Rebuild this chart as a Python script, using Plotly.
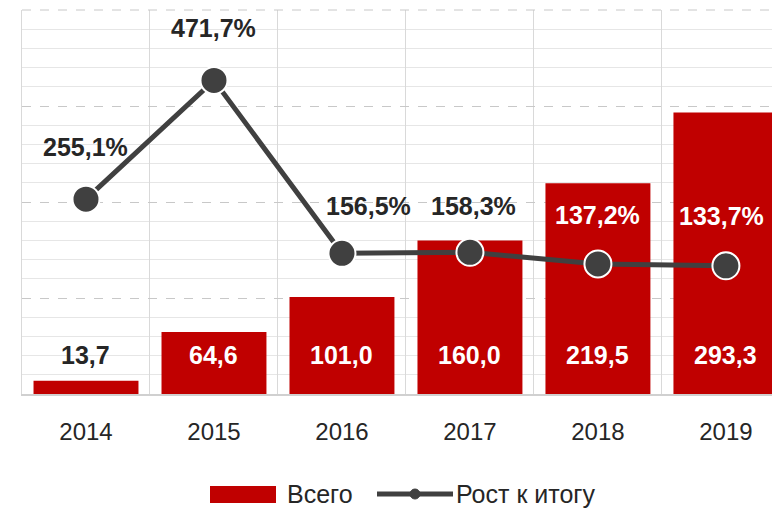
import plotly.graph_objects as go

years = ["2014", "2015", "2016", "2017", "2018", "2019"]
total = [13.7, 64.6, 101.0, 160.0, 219.5, 293.3]
growth = [255.1, 471.7, 156.5, 158.3, 137.2, 133.7]
bar_name = "Всего"
line_name = "Рост к итогу"

RED = "#C00000"
LINE = "#404040"
DARK = "#262626"
FONT = "Liberation Sans"


def fmt(v, pct=False):
    s = f"{v:.1f}".replace(".", ",")
    return s + "%" if pct else s


fig = go.Figure()
fig.add_trace(go.Bar(
    x=years, y=total, name=bar_name, marker=dict(color=RED, line=dict(width=0)),
    showlegend=False, hoverinfo="skip",
))
fig.add_trace(go.Scatter(
    x=years, y=growth, name=line_name, yaxis="y2", mode="lines+markers",
    line=dict(color=LINE, width=5),
    marker=dict(size=27, color=LINE, line=dict(color="white", width=2)),
    showlegend=False, hoverinfo="skip",
))

annotations = []
# bar value labels (inside base)
for i, v in enumerate(total):
    annotations.append(dict(
        x=i, y=0, xref="x", yref="y", yshift=39, yanchor="middle",
        text=f"<b>{fmt(v)}</b>", showarrow=False,
        font=dict(family=FONT, size=25, color=DARK if v < 30 else "white"),
    ))
# line value labels
label_xshift = [0, 0, 27, 4, 0, -4]
label_yshift = [52, 52, 47, 46, 49, 50]
label_white = [False, False, False, False, True, True]
for i, (g, xs, ys, w) in enumerate(zip(growth, label_xshift, label_yshift, label_white)):
    annotations.append(dict(
        x=i, y=g, xref="x", yref="y2", xshift=xs, yshift=ys, yanchor="middle",
        text=f"<b>{fmt(g, True)}</b>", showarrow=False,
        font=dict(family=FONT, size=25, color="white" if w else DARK),
    ))


# custom legend (pixel positions converted to paper coords)
def px_x(p):
    return (p - 22) / 750.0


def px_y(p):
    return (394 - p) / 384.0


shapes = [
    dict(type="rect", xref="paper", yref="paper", x0=px_x(210), x1=px_x(276),
         y0=px_y(503), y1=px_y(486), fillcolor=RED, line=dict(width=0)),
    dict(type="line", xref="paper", yref="paper", x0=px_x(377), x1=px_x(453),
         y0=px_y(494), y1=px_y(494), line=dict(color=LINE, width=5)),
    dict(type="circle", xref="paper", yref="paper", x0=px_x(410), x1=px_x(420),
         y0=px_y(499), y1=px_y(489), fillcolor=LINE, line=dict(color=LINE, width=1)),
    # top dashed gridline of the plot area
    dict(type="line", xref="paper", yref="paper", x0=0, x1=1, y0=1, y1=1,
         line=dict(color="#C8C8C8", width=1, dash="dash")),
]
annotations.append(dict(x=px_x(285), y=px_y(494), xref="paper", yref="paper",
                        xanchor="left", yanchor="middle", text=bar_name, showarrow=False,
                        font=dict(family=FONT, size=25, color=DARK)))
annotations.append(dict(x=px_x(454), y=px_y(494), xref="paper", yref="paper",
                        xanchor="left", yanchor="middle", text=line_name, showarrow=False,
                        font=dict(family=FONT, size=25, color=DARK)))

fig.update_layout(
    width=772, height=508,
    margin=dict(l=22, r=0, t=10, b=114),
    paper_bgcolor="white", plot_bgcolor="white",
    bargap=0.18,
    showlegend=False,
    font=dict(family=FONT, color=DARK),
    xaxis=dict(
        type="category", range=[-0.5, 5.36], tickson="boundaries",
        showgrid=True, gridcolor="#D9D9D9", gridwidth=1,
        showline=True, linecolor="#D0D0D0", linewidth=2,
        ticks="", ticklabelstandoff=15,
        tickfont=dict(family=FONT, size=24, color=DARK),
    ),
    yaxis=dict(
        range=[0, 400], dtick=100, showticklabels=False, ticks="",
        showgrid=True, gridcolor="#C8C8C8", griddash="dash", gridwidth=1,
        minor=dict(dtick=20, showgrid=True, gridcolor="#E6E6E6", gridwidth=1,
                   griddash="solid", ticks=""),
        zeroline=False, showline=True, linecolor="#D9D9D9", linewidth=1,
    ),
    yaxis2=dict(
        range=[-100, 600], overlaying="y", side="right", visible=False,
        showgrid=False, zeroline=False,
    ),
    annotations=annotations,
    shapes=shapes,
)

fig.write_html(
    "out.html",
    config={"displayModeBar": False},
    post_script="document.body.style.margin='0';document.body.style.overflow='hidden';",
)
